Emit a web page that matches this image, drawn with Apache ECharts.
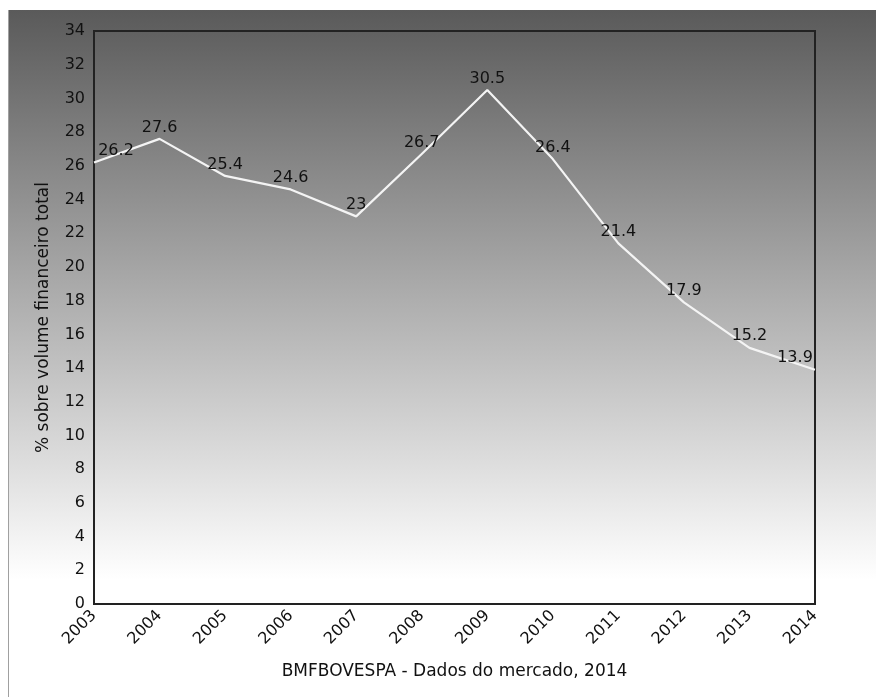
<!DOCTYPE html>
<html>
<head>
<meta charset="utf-8">
<script src="https://cdn.jsdelivr.net/npm/echarts@6/dist/echarts.min.js"></script>
<style>
  html, body { margin: 0; padding: 0; background: #ffffff; }
  #chart { width: 876px; height: 697px; }
</style>
</head>
<body>
<div id="chart"></div>
<script>
// Share of total financial volume, by year
const years = ['2003', '2004', '2005', '2006', '2007', '2008', '2009', '2010', '2011', '2012', '2013', '2014'];
const shares = [26.2, 27.6, 25.4, 24.6, 23, 26.7, 30.5, 26.4, 21.4, 17.9, 15.2, 13.9];
const yTicks = [0, 2, 4, 6, 8, 10, 12, 14, 16, 18, 20, 22, 24, 26, 28, 30, 32, 34];

const FONT = '"DejaVu Sans", "Noto Sans", sans-serif';

// first and last labels are nudged inward so they stay inside the frame
const labelOffsets = { 0: [22, 0], 11: [-20, 0] };

const seriesData = shares.map((v, i) => {
  const item = { value: v };
  if (labelOffsets[i]) item.label = { offset: labelOffsets[i] };
  return item;
});

const chart = echarts.init(document.getElementById('chart'), null, { renderer: 'canvas' });

chart.setOption({
  backgroundColor: '#ffffff',
  animation: false,
  graphic: [
    {
      type: 'rect',
      z: -10,
      silent: true,
      shape: { x: 8, y: 10, width: 868, height: 687 },
      style: {
        fill: new echarts.graphic.LinearGradient(0, 0, 0, 1, [
          { offset: 0, color: '#5a5a5a' },
          { offset: 0.83, color: '#ffffff' },
          { offset: 1, color: '#ffffff' }
        ]),
        stroke: null
      }
    },
    {
      type: 'line',
      z: -9,
      silent: true,
      shape: { x1: 8.5, y1: 10, x2: 8.5, y2: 697 },
      style: { stroke: '#a0a0a0', lineWidth: 1 }
    }
  ],
  grid: {
    left: 94,
    right: 61,
    top: 31,
    bottom: 93,
    show: true,
    borderColor: '#222222',
    borderWidth: 2,
    backgroundColor: 'transparent'
  },
  xAxis: {
    type: 'category',
    data: years,
    boundaryGap: false,
    name: 'BMFBOVESPA - Dados do mercado, 2014',
    nameLocation: 'middle',
    nameGap: 59,
    nameTextStyle: { color: '#111111', fontSize: 17, fontFamily: FONT },
    axisLine: { show: true, lineStyle: { color: '#222222', width: 2 } },
    axisTick: { show: false },
    axisLabel: {
      rotate: 45,
      margin: 9,
      interval: 0,
      color: '#111111',
      fontSize: 16,
      fontFamily: FONT
    },
    splitLine: { show: false }
  },
  yAxis: {
    type: 'value',
    min: yTicks[0],
    max: yTicks[yTicks.length - 1],
    interval: 2,
    name: '% sobre volume financeiro total',
    nameLocation: 'middle',
    nameRotate: 90,
    nameGap: 42,
    nameTextStyle: { color: '#111111', fontSize: 17, fontFamily: FONT },
    axisLine: { show: true, lineStyle: { color: '#222222', width: 2 } },
    axisTick: { show: false },
    axisLabel: {
      margin: 9,
      color: '#111111',
      fontSize: 16,
      fontFamily: FONT
    },
    splitLine: { show: false }
  },
  series: [
    {
      type: 'line',
      data: seriesData,
      showSymbol: true,
      symbol: 'circle',
      symbolSize: 1,
      itemStyle: { color: 'rgba(0,0,0,0)' },
      lineStyle: { color: '#f4f4f4', width: 2.2 },
      label: {
        show: true,
        position: 'top',
        distance: 3,
        color: '#111111',
        fontSize: 16,
        fontFamily: FONT,
        formatter: p => String(p.value)
      }
    }
  ]
});
</script>
</body>
</html>
